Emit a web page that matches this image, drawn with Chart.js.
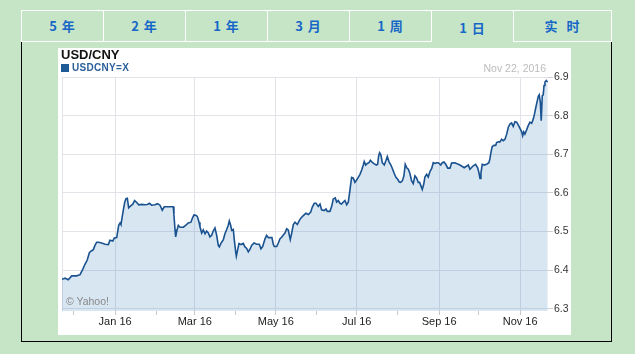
<!DOCTYPE html>
<html>
<head>
<meta charset="utf-8">
<script src="https://cdn.jsdelivr.net/npm/chart.js@4/dist/chart.umd.min.js"></script>
<style>
  body { margin: 0; width: 635px; height: 354px; overflow: hidden; position: relative;
         background: #c6e5c6; font-family: Arial, "Liberation Sans", sans-serif; }
  .tab { position: absolute; top: 10px; height: 32px; box-sizing: border-box;
         border: 1px solid #fff; color: #1667c8; font: bold 13px "Noto Sans CJK SC", sans-serif;
         text-align: center; line-height: 30px; white-space: pre; letter-spacing: 1px; }
  .tab.on { border-bottom: none; line-height: 33px; }
  #panel { position: absolute; left: 21px; top: 41px; width: 591px; height: 301px;
           box-sizing: border-box; border: 1px solid #000; border-top: none; }
  #box { position: absolute; left: 58px; top: 48px; width: 513px; height: 287px; background: #fff; }
  #chart { position: absolute; left: 58px; top: 48px; }
  .txt { position: absolute; white-space: nowrap; }
</style>
</head>
<body>
<div id="panel"></div>
<div id="tabs"></div>
<div id="box"></div>
<canvas id="chart" width="513" height="287"></canvas>
<div class="txt" style="left:61px;top:48px;font:bold 13px/13px Arial,'Liberation Sans';color:#111">USD/CNY</div>
<div class="txt" style="left:61px;top:64px;width:8px;height:8px;background:#1d5a96"></div>
<div class="txt" style="left:72px;top:63px;font:bold 10px/10px Arial,'Liberation Sans';color:#2a5f9a;letter-spacing:0.3px">USDCNY=X</div>
<div class="txt" style="right:89px;top:63px;font:10.5px/10.5px Arial,'Liberation Sans';color:#bbb">Nov 22, 2016</div>
<div class="txt" style="left:66px;top:296px;font:10.5px/10.5px Arial,'Liberation Sans';color:#888">© Yahoo!</div>
<script>
// tab row
const tabLabels = ['5 年', '2 年', '1 年', '3 月', '1 周', '1 日', '实  时'];
const activeTab = 5;
const tabEdges = [21, 103, 185, 267, 349, 431, 513, 611];

// days counted from Nov 22, 2015
const startDate = new Date(2015, 10, 22);
const dayOffset = [
  0, 2.3, 4.7, 7.3, 11, 13.6, 15.6, 17.3, 19, 20.6, 22.3, 23.6, 24.8, 26.1, 27.4, 29.9, 32.4, 34.9, 36.1, 38.2,
  39.4, 41.2, 42.7, 43.7, 44.4, 45.4, 46.2, 47.2, 48.2, 49.2, 50.2, 51.7, 53.2, 54.7, 56.3, 57.8, 60, 62.5, 64.3, 65.8,
  67.5, 70, 72, 73.8, 75.5, 77, 80, 83.8, 84.3, 85.1, 85.6, 86.3, 87.6, 88.9, 91.4, 93.1, 95.1, 97.1, 98.4, 99.4,
  100.7, 101.9, 103.2, 103.9, 105.2, 106.4, 107.7, 108.9, 110.2, 111.4, 112.7, 113.9, 115.2, 116.5, 117.7, 118.5, 119.7, 121.5, 122.7, 124,
  125.2, 126, 127, 127.8, 129, 129.8, 130.8, 131.3, 132.3, 133.3, 134.8, 136.5, 137.8, 139.1, 140.3, 141.6, 142.8, 144.6, 146.6, 148.6,
  149.8, 151.1, 152.9, 154.1, 155.4, 158.1, 159.1, 159.9, 161.7, 162.9, 164.2, 165.4, 166.7, 167.9, 169.2, 170.4, 171.2, 171.9, 173, 174.2,
  175.5, 177.2, 178.7, 180, 181.7, 183.7, 185.5, 187.3, 188.5, 190, 191.3, 193, 194.3, 195.5, 197.3, 198.8, 199.8, 201.8, 203.1, 204.3,
  205.8, 206.8, 208.1, 209.3, 210.6, 211.8, 213.1, 214.4, 215.6, 216.5, 217.4, 218.1, 219.4, 220.6, 221.9, 223.1, 224.4, 225.7, 226.9, 227.6,
  228.7, 229.9, 231.2, 232.2, 233.7, 235.2, 236.7, 237.7, 238.5, 239.2, 240.2, 241.2, 242.7, 244, 245, 246.2, 247.7, 249, 250.2, 251.5,
  252.8, 254, 255, 256.3, 257.5, 258.5, 259.6, 260.8, 262, 263.3, 264.5, 265.8, 267.1, 268.3, 269.3, 270.3, 271.3, 272.4, 273.3, 274.6,
  275.8, 277.1, 278.4, 279.6, 280.9, 282.2, 283.4, 285.2, 286.4, 287.7, 289, 290.5, 292.2, 293.4, 295.9, 299.7, 302.9, 306, 307.2, 309.7,
  311.5, 313, 314, 314.8, 315.5, 316.5, 318, 319.8, 321.5, 322.3, 323, 324, 325.3, 326.6, 327.3, 328.6, 329.8, 331.1, 332.3, 333.6,
  334.9, 336.1, 337.3, 338.6, 339.8, 341.1, 342.4, 343.6, 344.9, 346.2, 346.9, 347.7, 348.6, 349.9, 351.1, 352.4, 353.7, 354.9, 355.7, 356.7,
  357.7, 358.7, 359.4, 360.2, 360.9, 361.7, 362.4, 363, 363.7, 364.7, 365.8
];
const usdcny = [
  6.376, 6.379, 6.375, 6.385, 6.385, 6.388, 6.402, 6.415, 6.426, 6.445, 6.450, 6.453, 6.464, 6.472, 6.472, 6.470, 6.467, 6.466, 6.477, 6.475,
  6.483, 6.484, 6.516, 6.522, 6.518, 6.539, 6.556, 6.575, 6.585, 6.586, 6.561, 6.566, 6.570, 6.580, 6.575, 6.569, 6.570, 6.569, 6.570, 6.573,
  6.568, 6.569, 6.572, 6.568, 6.555, 6.564, 6.564, 6.564, 6.543, 6.505, 6.486, 6.499, 6.516, 6.511, 6.511, 6.516, 6.522, 6.524, 6.536, 6.543,
  6.542, 6.539, 6.524, 6.512, 6.496, 6.504, 6.494, 6.501, 6.496, 6.486, 6.490, 6.501, 6.509, 6.490, 6.464, 6.460, 6.469, 6.479, 6.494, 6.505,
  6.516, 6.527, 6.516, 6.503, 6.505, 6.477, 6.447, 6.436, 6.453, 6.469, 6.466, 6.469, 6.460, 6.456, 6.447, 6.454, 6.464, 6.470, 6.467, 6.467,
  6.455, 6.461, 6.481, 6.490, 6.484, 6.484, 6.467, 6.461, 6.461, 6.470, 6.481, 6.485, 6.491, 6.496, 6.507, 6.504, 6.490, 6.479, 6.496, 6.518,
  6.524, 6.518, 6.528, 6.535, 6.541, 6.547, 6.544, 6.550, 6.563, 6.573, 6.573, 6.565, 6.571, 6.556, 6.554, 6.558, 6.552, 6.552, 6.565, 6.584,
  6.587, 6.576, 6.580, 6.573, 6.571, 6.576, 6.580, 6.569, 6.576, 6.598, 6.622, 6.640, 6.638, 6.627, 6.633, 6.640, 6.648, 6.659, 6.672, 6.681,
  6.672, 6.676, 6.678, 6.684, 6.679, 6.675, 6.672, 6.674, 6.696, 6.704, 6.698, 6.678, 6.672, 6.684, 6.694, 6.681, 6.672, 6.661, 6.650, 6.640,
  6.635, 6.628, 6.627, 6.631, 6.644, 6.674, 6.665, 6.661, 6.650, 6.631, 6.624, 6.644, 6.638, 6.627, 6.627, 6.618, 6.609, 6.622, 6.641, 6.648,
  6.641, 6.655, 6.663, 6.678, 6.676, 6.678, 6.678, 6.672, 6.678, 6.680, 6.674, 6.664, 6.664, 6.677, 6.678, 6.672, 6.665, 6.672, 6.661, 6.670,
  6.674, 6.665, 6.652, 6.637, 6.652, 6.674, 6.672, 6.674, 6.678, 6.689, 6.704, 6.720, 6.723, 6.723, 6.730, 6.732, 6.732, 6.739, 6.735, 6.739,
  6.752, 6.770, 6.778, 6.781, 6.772, 6.784, 6.783, 6.776, 6.767, 6.758, 6.748, 6.758, 6.752, 6.763, 6.774, 6.783, 6.780, 6.791, 6.802, 6.819,
  6.835, 6.850, 6.854, 6.835, 6.787, 6.852, 6.854, 6.878, 6.887, 6.891, 6.887
];

// x axis: month starts Dec 2015 .. Nov 2016
const tickMonths = [[2015, 11], [2016, 0], [2016, 1], [2016, 2], [2016, 3], [2016, 4],
                    [2016, 5], [2016, 6], [2016, 7], [2016, 8], [2016, 9], [2016, 10]];
const tickLabels = ['', 'Jan 16', '', 'Mar 16', '', 'May 16', '', 'Jul 16', '', 'Sep 16', '', 'Nov 16'];
const yTicks = [6.3, 6.4, 6.5, 6.6, 6.7, 6.8, 6.9];

const monthDays = tickMonths.map(([y, m]) => Math.round((new Date(y, m, 1) - startDate) / 864e5));
const labelAt = v => {
  const i = monthDays.indexOf(v);
  return i < 0 ? '' : tickLabels[i];
};

tabLabels.forEach((t, i) => {
  const d = document.createElement('div');
  d.className = 'tab' + (i === activeTab ? ' on' : '');
  d.style.left = tabEdges[i] + 'px';
  d.style.width = (tabEdges[i + 1] - tabEdges[i] + 1) + 'px';
  d.textContent = t;
  document.getElementById('tabs').appendChild(d);
});

const GRID = '#e1e3e8';
const NONE = 'rgba(0,0,0,0)';
Chart.defaults.font.family = 'Arial, "Liberation Sans", sans-serif';

new Chart(document.getElementById('chart'), {
  type: 'line',
  data: {
    datasets: [{
      label: 'USDCNY=X',
      data: dayOffset.map((d, i) => ({ x: d, y: usdcny[i] })),
      borderColor: '#1a5290',
      borderWidth: 1.6,
      pointRadius: 0,
      tension: 0,
      fill: 'start',
      backgroundColor: 'rgba(60,130,190,0.2)'
    }]
  },
  options: {
    responsive: false,
    animation: false,
    layout: { padding: { left: 4, top: 29, right: 0, bottom: 0 } },
    plugins: { legend: { display: false }, tooltip: { enabled: false } },
    scales: {
      x: {
        type: 'linear',
        min: 0,
        max: 366,
        afterBuildTicks: s => { s.ticks = [0, ...monthDays].map(v => ({ value: v })); },
        afterFit: s => { s.height = 24; },
        border: { display: false },
        grid: {
          color: c => (c.tick && (c.tick.value === 0 || labelAt(c.tick.value))) ? GRID : NONE,
          tickColor: c => (c.tick && c.tick.value === 0) ? NONE : '#c8c8c8',
          tickLength: 4
        },
        ticks: {
          autoSkip: false,
          maxRotation: 0,
          padding: 0,
          color: '#222',
          font: { size: 11 },
          callback: v => labelAt(v)
        }
      },
      y: {
        position: 'right',
        min: 6.294,
        max: 6.9,
        afterBuildTicks: s => { s.ticks = yTicks.map(v => ({ value: v })); },
        afterFit: s => { s.width = 23; },
        border: { display: false },
        grid: { color: GRID, tickColor: '#d0d0d0', tickLength: 5 },
        ticks: { padding: 1, color: '#333', font: { size: 10.5 }, callback: v => v.toFixed(1) }
      }
    }
  }
});
</script>
</body>
</html>
